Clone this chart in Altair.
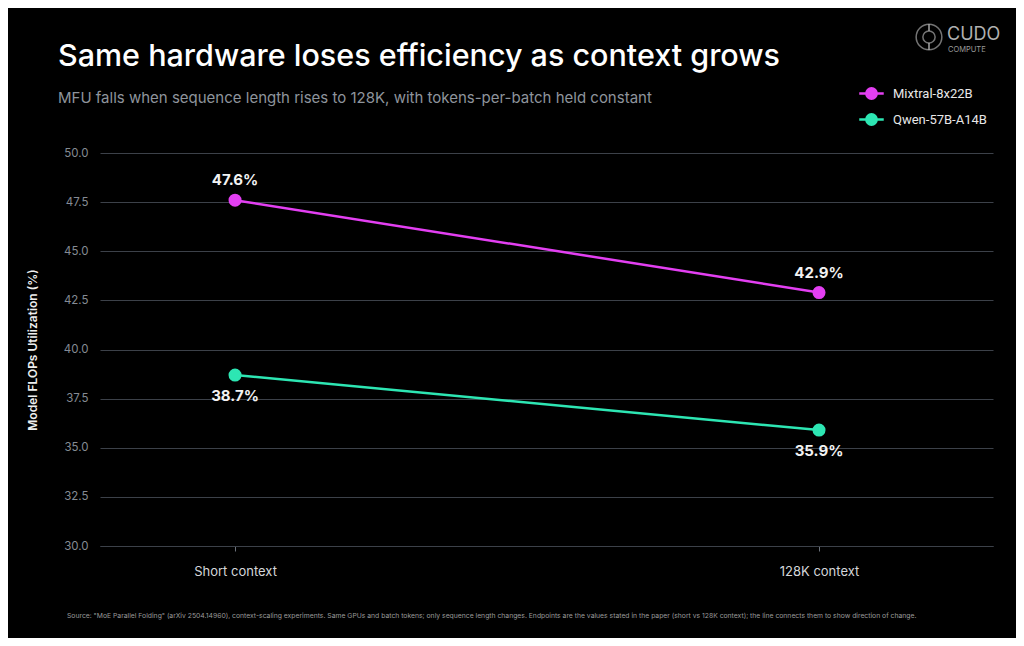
import altair as alt
import pandas as pd

contexts = ["Short context", "128K context"]
series = ["Mixtral-8x22B", "Qwen-57B-A14B"]
mixtral_vals = [47.6, 42.9]
qwen_vals = [38.7, 35.9]
colors = ["#E33FF2", "#2DE6B3"]
y_ticks = [30.0, 32.5, 35.0, 37.5, 40.0, 42.5, 45.0, 47.5, 50.0]

title_text = "Same hardware loses efficiency as context grows"
subtitle_text = "MFU falls when sequence length rises to 128K, with tokens-per-batch held constant"
source_text = ('Source: "MoE Parallel Folding" (arXiv 2504.14960), context-scaling experiments. Same GPUs and batch tokens; '
               'only sequence length changes. Endpoints are the values stated in the paper (short vs 128K context); '
               'the line connects them to show direction of change.')

rows = []
for s, vals in zip(series, [mixtral_vals, qwen_vals]):
    for c, v in zip(contexts, vals):
        rows.append({"context": c, "series": s, "mfu": v,
                     "label": f"{v:.1f}%"})
df = pd.DataFrame(rows)

FONT = "Inter"
W, H = 893, 393

x_enc = alt.X("context:N", sort=contexts,
              scale=alt.Scale(type="point", domain=contexts, padding=0.2646, align=0.437),
              axis=alt.Axis(title=None, labelAngle=0, labelColor="#d4d6da", labelFontSize=13,
                            labelFont=FONT, tickColor="#6b717a", tickSize=5, labelPadding=14,
                            domainColor="#3c4149", grid=False))
y_enc = alt.Y("mfu:Q",
              scale=alt.Scale(domain=[30, 50], nice=False, zero=False),
              axis=alt.Axis(title="Model FLOPs Utilization (%)", values=y_ticks, format=".1f",
                            labelColor="#858b94", labelFontSize=11.5, labelFont=FONT,
                            labelPadding=12, ticks=False, domain=False,
                            gridColor="#3c4149", gridWidth=1,
                            titleColor="#eeeeee", titleFontSize=12, titleFont=FONT,
                            titleFontWeight=600, titlePadding=24))
color_enc = alt.Color("series:N", sort=series,
                      scale=alt.Scale(domain=series, range=colors),
                      legend=alt.Legend(title=None, orient="none", legendX=758, legendY=-73,
                                        labelColor="#e8e8e8", labelFontSize=13, labelFont="Roboto",
                                        symbolType="M -1 0 L 1 0 M 0.42 0 A 0.42 0.42 0 1 1 -0.42 0 A 0.42 0.42 0 1 1 0.42 0 Z",
                                        symbolSize=600, symbolStrokeWidth=2.5,
                                        rowPadding=2, labelOffset=8))

base = alt.Chart(df)
lines = base.mark_line(strokeWidth=2.5).encode(x=x_enc, y=y_enc, color=color_enc)
points = base.mark_point(filled=True, size=170, opacity=1).encode(
    x=alt.X("context:N", sort=contexts), y="mfu:Q", color=alt.Color("series:N", sort=series))

lab_top = base.transform_filter(alt.datum.series == series[0]).mark_text(
    dy=-20, fontSize=15, fontWeight="bold", color="#f2f2f2", font=FONT).encode(
    x=alt.X("context:N", sort=contexts), y="mfu:Q", text="label:N")
lab_bot = base.transform_filter(alt.datum.series == series[1]).mark_text(
    dy=21, fontSize=15, fontWeight="bold", color="#f2f2f2", font=FONT).encode(
    x=alt.X("context:N", sort=contexts), y="mfu:Q", text="label:N")

one = pd.DataFrame({"t": [title_text], "s": [subtitle_text], "src": [source_text],
                    "cudo": ["CUDO"], "compute": ["COMPUTE"]})
ann = alt.Chart(one)
title_m = ann.mark_text(align="left", baseline="alphabetic", fontSize=30.5, font=FONT,
                        fontWeight=500, color="#ffffff").encode(
    x=alt.value(-42), y=alt.value(-87), text="t:N")
sub_m = ann.mark_text(align="left", baseline="alphabetic", fontSize=15, font=FONT,
                      color="#8e949c").encode(
    x=alt.value(-42), y=alt.value(-50), text="s:N")
src_m = ann.mark_text(align="left", baseline="alphabetic", fontSize=6.8, font=FONT,
                      color="#9a9a9a").encode(
    x=alt.value(-33), y=alt.value(465), text="src:N")
logo_outer = ann.mark_point(shape="circle", filled=False, size=660, strokeWidth=1.5,
                            color="#a6a6a6").encode(x=alt.value(829), y=alt.value(-116))
logo_inner = ann.mark_point(shape="circle", filled=False, size=150, strokeWidth=1.5,
                            color="#a6a6a6").encode(x=alt.value(829), y=alt.value(-116))
logo_rule1 = ann.mark_rule(color="#a6a6a6", strokeWidth=1.5).encode(
    x=alt.value(829), y=alt.value(-129), y2=alt.value(-122))
logo_rule2 = ann.mark_rule(color="#a6a6a6", strokeWidth=1.5).encode(
    x=alt.value(829), y=alt.value(-110), y2=alt.value(-103))
cudo_m = ann.mark_text(align="left", baseline="alphabetic", fontSize=18, font=FONT,
                       color="#b0b0b0").encode(
    x=alt.value(847), y=alt.value(-113), text="cudo:N")
comp_m = ann.mark_text(align="left", baseline="alphabetic", fontSize=7.5, font=FONT,
                       color="#9a9a9a").encode(
    x=alt.value(848), y=alt.value(-101), text="compute:N")

chart = alt.layer(lines, points, lab_top, lab_bot, title_m, sub_m, src_m,
                  logo_outer, logo_inner, logo_rule1, logo_rule2, cudo_m, comp_m).properties(
    width=W, height=H,
    padding={"left": 92, "top": 145, "right": 23, "bottom": 92},
    autosize=alt.AutoSizeParams(type="none"),
    background="#000000",
).configure_view(stroke=None)

chart.save("out.html", embed_options={"renderer": "svg", "actions": False})
